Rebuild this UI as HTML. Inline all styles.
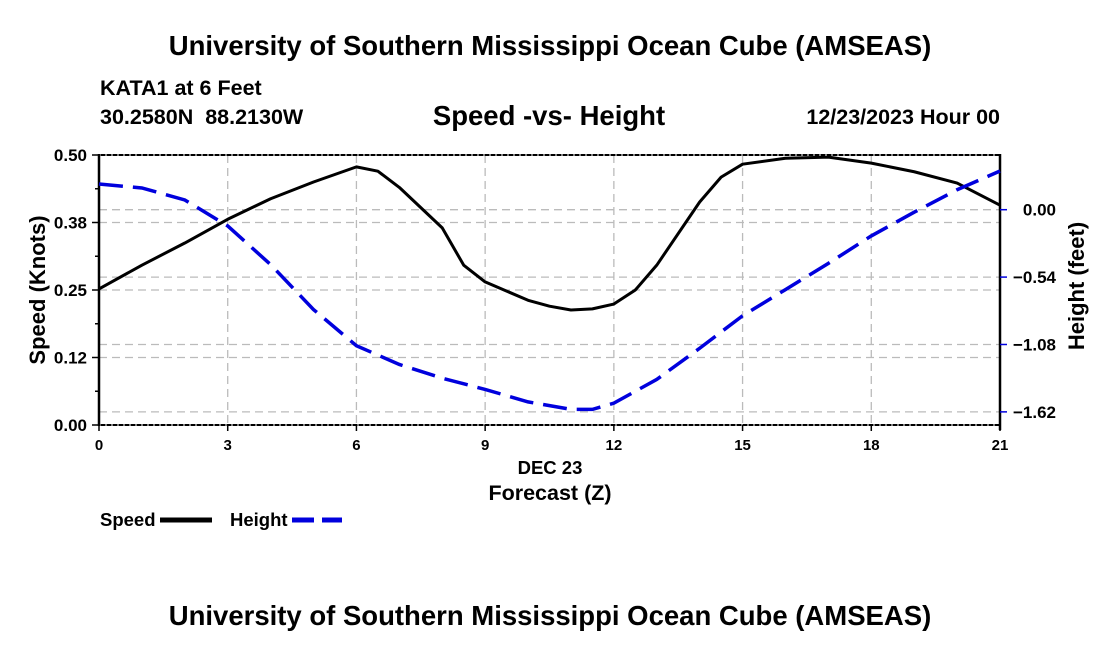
<!DOCTYPE html>
<html><head><meta charset="utf-8"><style>
body{margin:0;background:#fff;}
svg{display:block;font-family:"Liberation Sans",Arial,sans-serif;font-weight:bold;}
</style></head><body>
<svg id="chart" width="1100" height="650">
<text x="550" y="55" font-size="27.5" text-anchor="middle">University of Southern Mississippi Ocean Cube (AMSEAS)</text>
<text x="100" y="95" font-size="21.5">KATA1 at 6 Feet</text>
<text x="100" y="124" font-size="21.5" xml:space="preserve">30.2580N  88.2130W</text>
<text x="549" y="125" font-size="27.5" text-anchor="middle">Speed -vs- Height</text>
<text x="1000" y="124" font-size="21.5" text-anchor="end">12/23/2023 Hour 00</text>
<g id="grid"></g>
<g id="axes"></g>
<g id="series"></g>
<text x="550" y="474" font-size="18.5" text-anchor="middle">DEC 23</text>
<text x="550" y="500" font-size="21.5" text-anchor="middle">Forecast (Z)</text>
<text x="45" y="290" font-size="22" text-anchor="middle" transform="rotate(-90 45 290)">Speed (Knots)</text>
<text x="1084" y="286" font-size="22" text-anchor="middle" transform="rotate(-90 1084 286)">Height (feet)</text>
<g>
<text x="100" y="526" font-size="18.5">Speed</text>
<line x1="160" y1="520" x2="212" y2="520" stroke="#000" stroke-width="5"/>
</g>
<g>
<text x="230" y="526" font-size="18.5">Height</text>
<line x1="292" y1="520" x2="342" y2="520" stroke="#0000dd" stroke-width="5" stroke-dasharray="22,8"/>
</g>
<text x="550" y="625" font-size="27.5" text-anchor="middle">University of Southern Mississippi Ocean Cube (AMSEAS)</text>
</svg>
<script>
const speedHours=[0,1,2,3,4,5,6,6.5,7,8,8.5,9,10,10.5,11,11.5,12,12.5,13,14,14.5,15,16,17,18,19,20,21];
const speedValues=[0.252,0.296,0.337,0.381,0.419,0.45,0.478,0.47,0.44,0.365,0.296,0.265,0.231,0.22,0.213,0.215,0.224,0.25,0.296,0.413,0.459,0.483,0.494,0.496,0.485,0.469,0.448,0.407];
const heightHours=[0,1,2,3,4,5,6,7,8,9,10,11,11.5,12,13,14,15,16,17,18,19,20,21];
const heightValues=[0.206,0.174,0.078,-0.13,-0.44,-0.80,-1.09,-1.24,-1.35,-1.44,-1.54,-1.60,-1.60,-1.55,-1.36,-1.11,-0.85,-0.64,-0.43,-0.21,-0.02,0.16,0.31];
const xTicks=[0,3,6,9,12,15,18,21];
const leftTicks=[0,0.125,0.25,0.375,0.5];
const leftTickLabels=["0.00","0.12","0.25","0.38","0.50"];
const rightTicks=[0,-0.54,-1.08,-1.62];
const rightTickLabels=["0.00","\u22120.54","\u22121.08","\u22121.62"];

const NS="http://www.w3.org/2000/svg";
const X0=99,X1=1000,YT=155,YB=425;
const xs=h=>X0+(h/21)*(X1-X0);
const ysL=v=>YB-(v/0.5)*(YB-YT);
const ysR=v=>209.7-v*124.8;
function mk(tag,attrs,parent){const e=document.createElementNS(NS,tag);for(const k in attrs)e.setAttribute(k,attrs[k]);document.getElementById(parent).appendChild(e);return e;}
xTicks.slice(1,-1).forEach(t=>{const l=mk('line',{x1:xs(t),x2:xs(t),y1:YT,y2:YB,stroke:'#bbb','stroke-width':1.3,'stroke-dasharray':'8,5'},'grid');

});
leftTicks.slice(1,-1).forEach(t=>{const l=mk('line',{x1:X0,x2:X1,y1:ysL(t),y2:ysL(t),stroke:'#bbb','stroke-width':1.3,'stroke-dasharray':'8,5'},'grid');

});
rightTicks.forEach(t=>{const l=mk('line',{x1:X0,x2:X1,y1:ysR(t),y2:ysR(t),stroke:'#bbb','stroke-width':1.3,'stroke-dasharray':'8,5'},'grid');

});
[[X0,YT,X1,YT,'top-border'],[X0,YB,X1,YB,'x-axis-line']].forEach(a=>{mk('line',{x1:a[0],y1:a[1],x2:a[2],y2:a[3],stroke:'#000','stroke-width':2},'axes');
const d=mk('line',{x1:a[0],y1:a[1],x2:a[2],y2:a[3],stroke:'#fff','stroke-width':1,'stroke-dasharray':'2,4'},'axes');

});
const la=mk('line',{x1:X0,y1:YT-1,x2:X0,y2:YB+1,stroke:'#000','stroke-width':2.5},'axes');


const ra=mk('line',{x1:X1,y1:YT-1,x2:X1,y2:YB+5,stroke:'#000','stroke-width':2.5},'axes');


xTicks.forEach(t=>{mk('line',{x1:xs(t),x2:xs(t),y1:YB,y2:YB+6,stroke:'#000','stroke-width':1.5},'axes');
const tx=mk('text',{x:xs(t),y:YB+25,'font-size':15,'text-anchor':'middle'},'axes');tx.textContent=t;

});
for(let v=0;v<=0.5001;v+=0.0625){mk('line',{x1:X0-(Math.abs((v/0.125)%1)<0.01?7:4),x2:X0,y1:ysL(v),y2:ysL(v),stroke:'#000','stroke-width':1.5},'axes');}
leftTicks.forEach((t,i)=>{const tx=mk('text',{x:X0-12,y:ysL(t)+6,'font-size':17,'text-anchor':'end'},'axes');tx.textContent=leftTickLabels[i];

});
rightTicks.forEach((t,i)=>{mk('line',{x1:X1,x2:X1+7,y1:ysR(t),y2:ysR(t),stroke:'#0000dd','stroke-width':1.5},'axes');
const tx=mk('text',{x:1056,y:ysR(t)+6,'font-size':17,'text-anchor':'end'},'axes');tx.textContent=rightTickLabels[i];

});
const sp=mk('polyline',{points:speedHours.map((h,i)=>xs(h)+','+ysL(speedValues[i])).join(' '),fill:'none',stroke:'#000','stroke-width':3,'stroke-linejoin':'round'},'series');


const hp=mk('polyline',{points:heightHours.map((h,i)=>xs(h)+','+ysR(heightValues[i])).join(' '),fill:'none',stroke:'#0000dd','stroke-width':3.5,'stroke-dasharray':'24,10'},'series');


</script>
</body></html>
